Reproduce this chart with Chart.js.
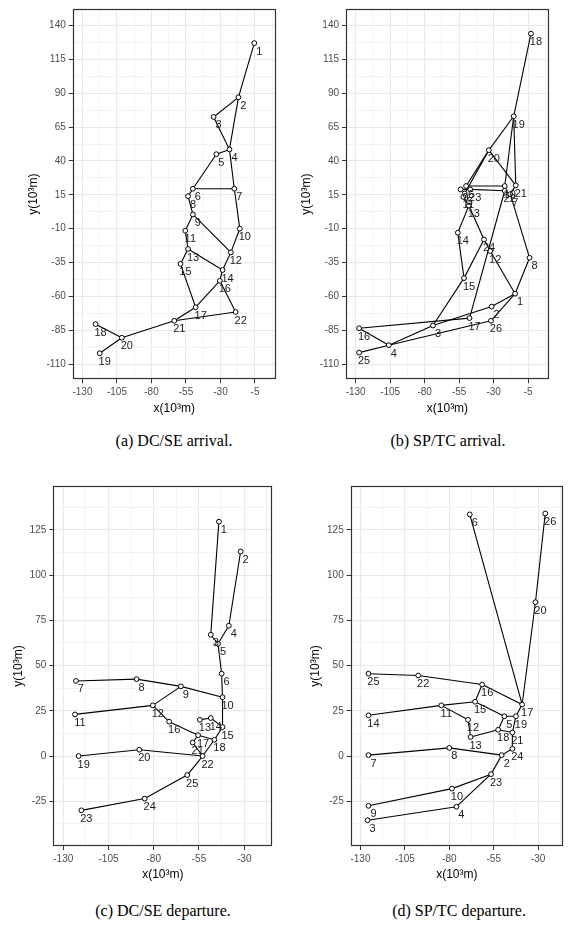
<!DOCTYPE html>
<html>
<head>
<meta charset="utf-8">
<script src="https://cdn.jsdelivr.net/npm/chart.js@4.4.0/dist/chart.umd.min.js"></script>
<style>
  html, body { margin: 0; padding: 0; background: #fff; width: 568px; height: 931px; overflow: hidden; }
  body { position: relative; }
  canvas { position: absolute; }
  .cap { position: absolute; width: 284px; text-align: center; line-height: 18px;
         font-family: "Liberation Serif", "DejaVu Serif", serif; font-size: 16px; color: #000; }
</style>
</head>
<body>
<canvas id="pa" width="284" height="420" style="left:0;top:0"></canvas>
<canvas id="pb" width="284" height="420" style="left:284px;top:0"></canvas>
<canvas id="pc" width="284" height="420" style="left:0;top:470px"></canvas>
<canvas id="pd" width="284" height="420" style="left:284px;top:470px"></canvas>
<div class="cap" style="left:32px;top:432px">(a) DC/SE arrival.</div>
<div class="cap" style="left:306px;top:432px">(b) SP/TC arrival.</div>
<div class="cap" style="left:21px;top:902px">(c) DC/SE departure.</div>
<div class="cap" style="left:317px;top:902px">(d) SP/TC departure.</div>
<script>
// tick labels
const topXTicks = [-130, -105, -80, -55, -30, -5];
const topYTicks = [-110, -85, -60, -35, -10, 15, 40, 65, 90, 115, 140];
const botXTicks = [-130, -105, -80, -55, -30];
const botYTicks = [-25, 0, 25, 50, 75, 100, 125];

// (a) DC/SE arrival
const aIds = [1, 2, 3, 4, 5, 6, 7, 8, 9, 10, 11, 12, 13, 14, 15, 16, 17, 18, 19, 20, 21, 22];
const aX = [-5.5, -17, -35, -23.5, -33, -50, -20, -53.5, -50, -16, -55.5, -22.5, -53.5, -28.5, -59, -30.5, -48, -120.5, -117.5, -101.5, -63.5, -19];
const aY = [127, 87, 72.5, 48.5, 45, 19.5, 19.5, 14, 0.5, -10, -11.5, -27.5, -25, -40.5, -36, -48.5, -68, -80.5, -102, -90.5, -78, -71.5];
const aEdges = [[1,2],[2,3],[2,4],[3,4],[4,5],[4,7],[5,6],[6,7],[6,8],[8,9],[9,11],[9,12],[7,10],[10,12],
  [11,13],[12,14],[13,14],[13,15],[14,16],[15,17],[16,17],[16,22],[17,21],[21,22],[21,20],[20,18],[20,19]];

// (b) SP/TC arrival
const bIds = [1, 2, 3, 4, 5, 6, 7, 8, 9, 10, 11, 12, 13, 14, 15, 16, 17, 18, 19, 20, 21, 22, 23, 24, 25, 26];
const bX = [-14.5, -31.5, -74, -106, -51, -50, -18, -4, -54, -22, -52, -32.5, -48, -56, -51.5, -127.5, -47.5, -3, -15.5, -33.5, -14, -22, -47, -37, -127.5, -32];
const bY = [-58, -67.5, -81.5, -96, 16, 21.5, 15.5, -31.5, 19, 21.5, 13.5, -26.5, 7, -13, -46.5, -83.5, -76, 134, 73, 48, 22, 18, 19, -18, -101.5, -78];
const bEdges = [[18,19],[19,20],[19,21],[19,10],[20,6],[20,5],[20,21],[6,10],[23,22],[9,23],[5,11],[11,13],
  [21,7],[22,7],[7,8],[8,1],[1,12],[12,24],[24,13],[13,14],[14,15],[15,3],[15,24],[22,17],
  [1,2],[2,3],[1,26],[26,4],[3,4],[4,16],[4,25],[16,17]];

// (c) DC/SE departure
const cIds = [1, 2, 3, 4, 5, 6, 7, 8, 9, 10, 11, 12, 13, 14, 15, 16, 17, 18, 19, 20, 21, 22, 23, 24, 25];
const cX = [-44, -32, -48.5, -38.5, -44.5, -42.5, -123, -89.5, -65, -42, -123.5, -80.5, -54.5, -48.5, -42, -71.5, -55.5, -46.5, -121.5, -88, -58.5, -53, -120, -85, -61.5];
const cY = [129.5, 113, 67, 72, 62, 45.5, 41.5, 42.5, 38.5, 32.5, 23, 28, 20, 21, 16, 19, 11.5, 9, 0, 3.5, 7.5, 0, -30, -23.5, -10.5];
const cEdges = [[1,3],[3,5],[2,4],[4,5],[5,6],[6,10],[10,15],[10,9],[9,8],[8,7],[9,12],[12,11],[12,16],
  [16,17],[17,18],[13,14],[14,15],[15,18],[18,22],[17,21],[21,22],[22,20],[20,19],[22,25],[25,24],[24,23]];

// (d) SP/TC departure
const dIds = [2, 3, 4, 5, 6, 7, 8, 9, 10, 11, 12, 13, 14, 15, 16, 17, 18, 19, 20, 21, 22, 23, 24, 25, 26];
const dX = [-50.5, -126, -76, -49, -68.5, -125.5, -80, -125.5, -78.5, -84.5, -69.5, -68, -125.5, -65.5, -61.5, -39, -52.5, -42.5, -31.5, -44.5, -97.5, -56.5, -44.5, -125.5, -26];
const dY = [0.5, -35.5, -28, 22, 133.5, 0.5, 4.5, -27.5, -18, 28, 20, 10.5, 22.5, 30, 39.5, 28.5, 14.5, 22, 85, 13, 44.5, -10, 4, 45.5, 134];
const dEdges = [[6,17],[26,20],[20,17],[25,22],[22,16],[16,17],[16,15],[14,11],[11,15],[11,12],[12,13],
  [13,18],[18,5],[15,5],[5,19],[17,19],[19,21],[18,21],[21,24],[24,2],[2,8],[8,7],[2,23],[23,10],
  [10,9],[23,4],[4,3]];

Chart.defaults.font.family = '"Liberation Sans", Arial, sans-serif';

// minor grid halfway between the major breaks
function withMinors(majors, lo, hi) {
  const step = majors[1] - majors[0];
  const out = [];
  for (let v = majors[0] - step; v <= majors[majors.length - 1] + step + 1e-9; v += step / 2) {
    if (v >= lo && v <= hi) out.push(v);
  }
  return out;
}

const decor = {
  id: 'decor',
  afterDatasetsDraw(chart, args, o) {
    const { ctx, chartArea: a, scales: { x, y } } = chart;
    ctx.save();
    ctx.strokeStyle = '#333';
    ctx.lineWidth = 1.2;
    ctx.strokeRect(Math.round(a.left) + 0.5, Math.round(a.top) + 0.5,
      Math.round(a.right - a.left) - 1, Math.round(a.bottom - a.top) - 1);
    // point numbers
    ctx.fillStyle = '#1a1a1a';
    ctx.font = '11px "Liberation Sans", Arial, sans-serif';
    ctx.textAlign = 'center';
    ctx.textBaseline = 'middle';
    o.ids.forEach((id, i) => {
      ctx.fillText(String(id), x.getPixelForValue(o.xs[i]) + 5, y.getPixelForValue(o.ys[i]) + 8.5);
    });
    // axis titles
    ctx.fillStyle = '#000';
    ctx.font = '12px "Liberation Sans", Arial, sans-serif';
    ctx.fillText('x(10³m)', (a.left + a.right) / 2, a.bottom + 29);
    ctx.translate(a.left - o.yTitleGap, (a.top + a.bottom) / 2);
    ctx.rotate(-Math.PI / 2);
    ctx.fillText('y(10³m)', 0, 0);
    ctx.restore();
  }
};

function makePanel(id, ids, xs, ys, edges, xTicks, yTicks, f) {
  const pts = ids.map((n, i) => ({ x: xs[i], y: ys[i] }));
  const byId = {};
  ids.forEach((n, i) => { byId[n] = pts[i]; });

  const datasets = [{
    data: pts,
    pointRadius: 2.4,
    pointBackgroundColor: '#fff',
    pointBorderColor: '#000',
    pointBorderWidth: 1,
    order: 0
  }];
  edges.forEach(([p, q]) => {
    datasets.push({
      data: [byId[p], byId[q]],
      showLine: true,
      borderColor: '#000',
      borderWidth: 1.1,
      pointRadius: 0,
      order: 1
    });
  });

  const xAll = withMinors(xTicks, f.xMin, f.xMax);
  const yAll = withMinors(yTicks, f.yMin, f.yMax);
  const isMajX = v => xTicks.some(t => Math.abs(t - v) < 1e-6);
  const isMajY = v => yTicks.some(t => Math.abs(t - v) < 1e-6);

  const axisCommon = (all, isMaj, size) => ({
    type: 'linear',
    afterBuildTicks: s => { s.ticks = all.map(v => ({ value: v })); },
    ticks: {
      autoSkip: false, maxRotation: 0, padding: 3, color: '#4d4d4d',
      font: { size: 10 },
      callback: v => isMaj(v) ? String(v) : ''
    },
    grid: {
      color: c => isMaj(c.tick.value) ? '#e8e8e8' : '#f3f3f3',
      lineWidth: 1,
      tickLength: 4,
      tickColor: c => isMaj(c.tick.value) ? '#333' : 'rgba(0,0,0,0)'
    },
    border: { display: false },
    afterFit: size
  });

  new Chart(document.getElementById(id), {
    type: 'scatter',
    data: { datasets },
    plugins: [decor],
    options: {
      responsive: false,
      animation: false,
      events: [],
      layout: { padding: { left: 0, right: f.padR, top: f.padT, bottom: 0 } },
      scales: {
        x: Object.assign(axisCommon(xAll, isMajX, s => { s.height = f.axisH; }), { min: f.xMin, max: f.xMax }),
        y: Object.assign(axisCommon(yAll, isMajY, s => { s.width = f.axisW; }), { min: f.yMin, max: f.yMax })
      },
      plugins: {
        legend: { display: false },
        tooltip: { enabled: false },
        decor: { ids, xs, ys, yTitleGap: f.yTitleGap }
      }
    }
  });
}

const topFrame = { xMin: -137, xMax: 10, yMin: -121.2, yMax: 152.2, padT: 2, axisH: 40.7, yTitleGap: 39 };
const botFrame = { yMin: -49.7, yMax: 149.2, padT: 16, axisH: 44, yTitleGap: 35 };

makePanel('pa', aIds, aX, aY, aEdges, topXTicks, topYTicks, Object.assign({}, topFrame, { axisW: 72.8, padR: 8.3 }));
makePanel('pb', bIds, bX, bY, bEdges, topXTicks, topYTicks, Object.assign({}, topFrame, { axisW: 62, padR: 19.1 }));
makePanel('pc', cIds, cX, cY, cEdges, botXTicks, botYTicks, Object.assign({}, botFrame, { xMin: -135.5, xMax: -14.5, axisW: 53.3, padR: 11.7 }));
makePanel('pd', dIds, dX, dY, dEdges, botXTicks, botYTicks, Object.assign({}, botFrame, { xMin: -135.5, xMax: -16, axisW: 66.7, padR: 1 }));
</script>
</body>
</html>
